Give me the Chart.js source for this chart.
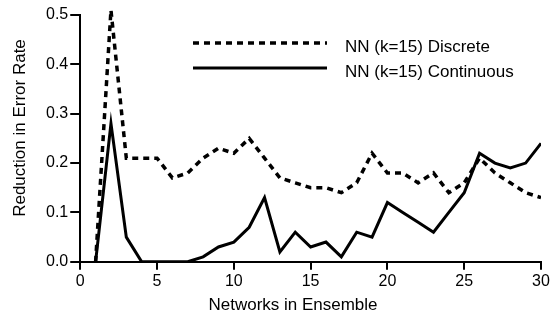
<!DOCTYPE html>
<html lang="en">
<head>
    <meta charset="UTF-8">
    <title>Reduction in Error Rate</title>
    <script src="https://cdn.jsdelivr.net/npm/chart.js"></script>
</head>
<body style="margin:0; background:#fff">
    <canvas id="errChart" width="554" height="322"></canvas>

    <script>
        // networks in ensemble
        const networks = [1, 2, 3, 4, 5, 6, 7, 8, 9, 10, 11, 12, 13, 14, 15,
                          16, 17, 18, 19, 20, 21, 22, 23, 24, 25, 26, 27, 28, 29, 30];
        const discrete = [0, 0.51, 0.21, 0.21, 0.21, 0.17, 0.18, 0.21, 0.23, 0.22, 0.25, 0.21, 0.17, 0.16, 0.15,
                          0.15, 0.14, 0.16, 0.22, 0.18, 0.18, 0.16, 0.18, 0.14, 0.16, 0.21, 0.18, 0.16, 0.14, 0.13];
        const continuous = [0, 0.28, 0.05, 0, 0, 0, 0, 0.01, 0.03, 0.04, 0.07, 0.13, 0.02, 0.06, 0.03,
                            0.04, 0.01, 0.06, 0.05, 0.12, 0.10, 0.08, 0.06, 0.10, 0.14, 0.22, 0.20, 0.19, 0.20, 0.24];
        const xTicks = [0, 5, 10, 15, 20, 25, 30];
        const yTicks = [0, 0.1, 0.2, 0.3, 0.4, 0.5];
        const xTitle = 'Networks in Ensemble';
        const yTitle = 'Reduction in Error Rate';

        const FONT = '"Liberation Sans", Arial, sans-serif';

        // axis titles and the legend inside the plot
        const titlesLegend = {
            id: 'titlesLegend',
            afterDraw(chart) {
                const c = chart.ctx;
                c.save();
                c.fillStyle = '#000';
                c.font = '17px ' + FONT;
                c.textAlign = 'center';
                c.textBaseline = 'middle';
                c.fillText(xTitle, 293, 305);
                c.translate(20, 128);
                c.rotate(-Math.PI / 2);
                c.fillText(yTitle, 0, 0);
                c.restore();

                c.save();
                chart.data.datasets.forEach((ds, i) => {
                    const y = 43 + i * 25;
                    c.beginPath();
                    c.setLineDash(ds.borderDash || []);
                    c.lineWidth = ds.borderWidth;
                    c.strokeStyle = ds.borderColor;
                    c.moveTo(193, y);
                    c.lineTo(327, y);
                    c.stroke();
                    c.setLineDash([]);
                    c.fillStyle = '#000';
                    c.font = '17px ' + FONT;
                    c.textAlign = 'left';
                    c.textBaseline = 'middle';
                    c.fillText(ds.label, 345, y + 4);
                });
                c.restore();
            }
        };

        new Chart(document.getElementById('errChart'), {
            type: 'line',
            data: {
                datasets: [{
                    label: 'NN (k=15) Discrete',
                    data: networks.map((n, i) => ({ x: n, y: discrete[i] })),
                    borderColor: '#000',
                    borderWidth: 3.5,
                    borderDash: [6, 5],
                    pointRadius: 0,
                    tension: 0,
                    fill: false,
                    clip: { left: 0, right: 0, bottom: 0, top: 10 }
                }, {
                    label: 'NN (k=15) Continuous',
                    data: networks.map((n, i) => ({ x: n, y: continuous[i] })),
                    borderColor: '#000',
                    borderWidth: 3,
                    pointRadius: 0,
                    tension: 0,
                    fill: false
                }]
            },
            options: {
                responsive: false,
                animation: false,
                layout: { padding: { left: 44, right: 13, top: 15, bottom: 29 } },
                plugins: {
                    legend: { display: false },
                    tooltip: { enabled: false }
                },
                scales: {
                    x: {
                        type: 'linear',
                        min: xTicks[0],
                        max: xTicks[xTicks.length - 1],
                        ticks: { stepSize: 5, color: '#000', font: { family: FONT, size: 16 }, padding: 2, maxRotation: 0 },
                        grid: { drawOnChartArea: false, drawTicks: true, tickLength: 8, color: '#000', lineWidth: 2 },
                        border: { display: true, color: '#000', width: 2 }
                    },
                    y: {
                        min: yTicks[0],
                        max: yTicks[yTicks.length - 1],
                        ticks: { stepSize: 0.1, color: '#000', font: { family: FONT, size: 16 }, padding: 2,
                                 callback: v => v.toFixed(1) },
                        grid: { drawOnChartArea: false, drawTicks: true, tickLength: 10, color: '#000', lineWidth: 2 },
                        border: { display: true, color: '#000', width: 2 }
                    }
                }
            },
            plugins: [titlesLegend]
        });
    </script>
</body>
</html>
